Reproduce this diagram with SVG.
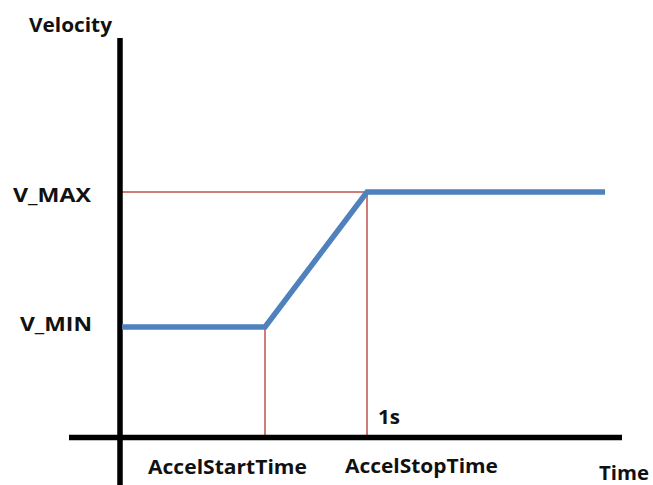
<svg xmlns="http://www.w3.org/2000/svg" width="653" height="485" viewBox="0 0 653 485">
<style>
.lbl{font-family:"Open Sans","Liberation Sans",sans-serif;font-weight:bold;font-size:20px;fill:#111;}
.axis{stroke:#000;stroke-width:5.5;fill:none;}
.guide{stroke:#C0504D;stroke-width:1.5;fill:none;}
.curve{stroke:#4F81BD;stroke-width:5.5;fill:none;stroke-linejoin:miter;}
</style>
<rect width="653" height="485" fill="#fff"/>
<g id="guides">
<polyline class="guide" points="122,192 367,192 367,437"/>
<line class="guide" x1="265" y1="327" x2="265" y2="437"/>
</g>
<g id="axes">
<line class="axis" x1="120" y1="38" x2="120" y2="485"/>
<line class="axis" x1="69" y1="437.5" x2="622" y2="437.5"/>
</g>
<g id="velocity-curve">
<polyline class="curve" points="122,327 265,327 367,192 605,192"/>
</g>
<g id="labels">
<text class="lbl" x="29" y="32" textLength="83" lengthAdjust="spacingAndGlyphs">Velocity</text>
<text class="lbl" x="13" y="202" textLength="78" lengthAdjust="spacingAndGlyphs">V_MAX</text>
<text class="lbl" x="20" y="331" textLength="72" lengthAdjust="spacingAndGlyphs">V_MIN</text>
<text class="lbl" x="378" y="424" textLength="22" lengthAdjust="spacingAndGlyphs">1s</text>
<text class="lbl" x="148" y="474" textLength="159" lengthAdjust="spacingAndGlyphs">AccelStartTime</text>
<text class="lbl" x="345" y="473" textLength="153" lengthAdjust="spacingAndGlyphs">AccelStopTime</text>
<text class="lbl" x="599" y="480" style="font-size:19px" textLength="50" lengthAdjust="spacingAndGlyphs">Time</text>
</g>
</svg>
